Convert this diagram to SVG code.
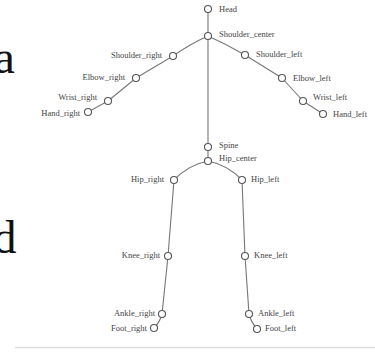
<svg xmlns="http://www.w3.org/2000/svg" width="375" height="353" viewBox="0 0 375 353">
<style>
.e{stroke:#777;stroke-width:1.1;fill:none}
.n circle{fill:#fff;stroke:#555;stroke-width:1.1}
.n text{font-family:"Liberation Serif",serif;font-size:8.5px;fill:#444}
.r text{text-anchor:end}
.big{font-family:"Liberation Serif",serif;font-size:47px;fill:#111}
</style>
<rect width="375" height="353" fill="#fff"/>
<text class="big" x="-6" y="73">a</text>
<text class="big" x="-7" y="253">d</text>
<line x1="15" y1="347.5" x2="375" y2="347.5" stroke="#ddd" stroke-width="1.5"/>
<g id="connectors">
<line class="e" x1="208" y1="9" x2="208" y2="36"/>
<line class="e" x1="208" y1="36" x2="208" y2="147"/>
<path class="e" d="M208 36 Q226 44 245 55"/>
<line class="e" x1="245" y1="55" x2="282" y2="78"/>
<line class="e" x1="282" y1="78" x2="303" y2="101"/>
<line class="e" x1="303" y1="101" x2="323" y2="114"/>
<path class="e" d="M208 36 Q190 44 173 56"/>
<line class="e" x1="173" y1="56" x2="136" y2="78"/>
<line class="e" x1="136" y1="78" x2="108" y2="101"/>
<line class="e" x1="108" y1="101" x2="88" y2="112"/>
<line class="e" x1="208" y1="147" x2="208" y2="161"/>
<path class="e" d="M208 161 Q188 165 174 180"/>
<path class="e" d="M208 161 Q228 165 242 180"/>
<line class="e" x1="174" y1="180" x2="168" y2="256"/>
<line class="e" x1="168" y1="256" x2="162" y2="314"/>
<path class="e" d="M162 314 Q160 322 154 328"/>
<line class="e" x1="242" y1="180" x2="245" y2="256"/>
<line class="e" x1="245" y1="256" x2="249" y2="314"/>
<path class="e" d="M249 314 Q251 322 257 329"/>
</g>
<g id="Head" class="n"><circle cx="208" cy="9" r="3.5"/><text x="219" y="12">Head</text></g>
<g id="Shoulder_center" class="n"><circle cx="208" cy="36" r="3.5"/><text x="219" y="37">Shoulder_center</text></g>
<g id="Shoulder_left" class="n"><circle cx="245" cy="55" r="3.5"/><text x="256" y="57">Shoulder_left</text></g>
<g id="Elbow_left" class="n"><circle cx="282" cy="78" r="3.5"/><text x="293" y="81">Elbow_left</text></g>
<g id="Wrist_left" class="n"><circle cx="303" cy="101" r="3.5"/><text x="313" y="100">Wrist_left</text></g>
<g id="Hand_left" class="n"><circle cx="323" cy="114" r="3.5"/><text x="333" y="117">Hand_left</text></g>
<g id="Shoulder_right" class="n r"><circle cx="173" cy="56" r="3.5"/><text x="162" y="58">Shoulder_right</text></g>
<g id="Elbow_right" class="n r"><circle cx="136" cy="78" r="3.5"/><text x="125" y="80">Elbow_right</text></g>
<g id="Wrist_right" class="n r"><circle cx="108" cy="101" r="3.5"/><text x="97" y="100">Wrist_right</text></g>
<g id="Hand_right" class="n r"><circle cx="88" cy="112" r="3.5"/><text x="80" y="116">Hand_right</text></g>
<g id="Spine" class="n"><circle cx="208" cy="147" r="3.5"/><text x="219" y="148">Spine</text></g>
<g id="Hip_center" class="n"><circle cx="208" cy="161" r="3.5"/><text x="219" y="161">Hip_center</text></g>
<g id="Hip_right" class="n r"><circle cx="174" cy="180" r="3.5"/><text x="164" y="182">Hip_right</text></g>
<g id="Hip_left" class="n"><circle cx="242" cy="180" r="3.5"/><text x="251" y="182">Hip_left</text></g>
<g id="Knee_right" class="n r"><circle cx="168" cy="256" r="3.5"/><text x="160" y="258">Knee_right</text></g>
<g id="Knee_left" class="n"><circle cx="245" cy="256" r="3.5"/><text x="254" y="258">Knee_left</text></g>
<g id="Ankle_right" class="n r"><circle cx="162" cy="314" r="3.5"/><text x="155" y="316">Ankle_right</text></g>
<g id="Ankle_left" class="n"><circle cx="249" cy="314" r="3.5"/><text x="258" y="316">Ankle_left</text></g>
<g id="Foot_right" class="n r"><circle cx="154" cy="328" r="3.5"/><text x="147" y="331">Foot_right</text></g>
<g id="Foot_left" class="n"><circle cx="257" cy="329" r="3.5"/><text x="265" y="331">Foot_left</text></g>
</svg>
